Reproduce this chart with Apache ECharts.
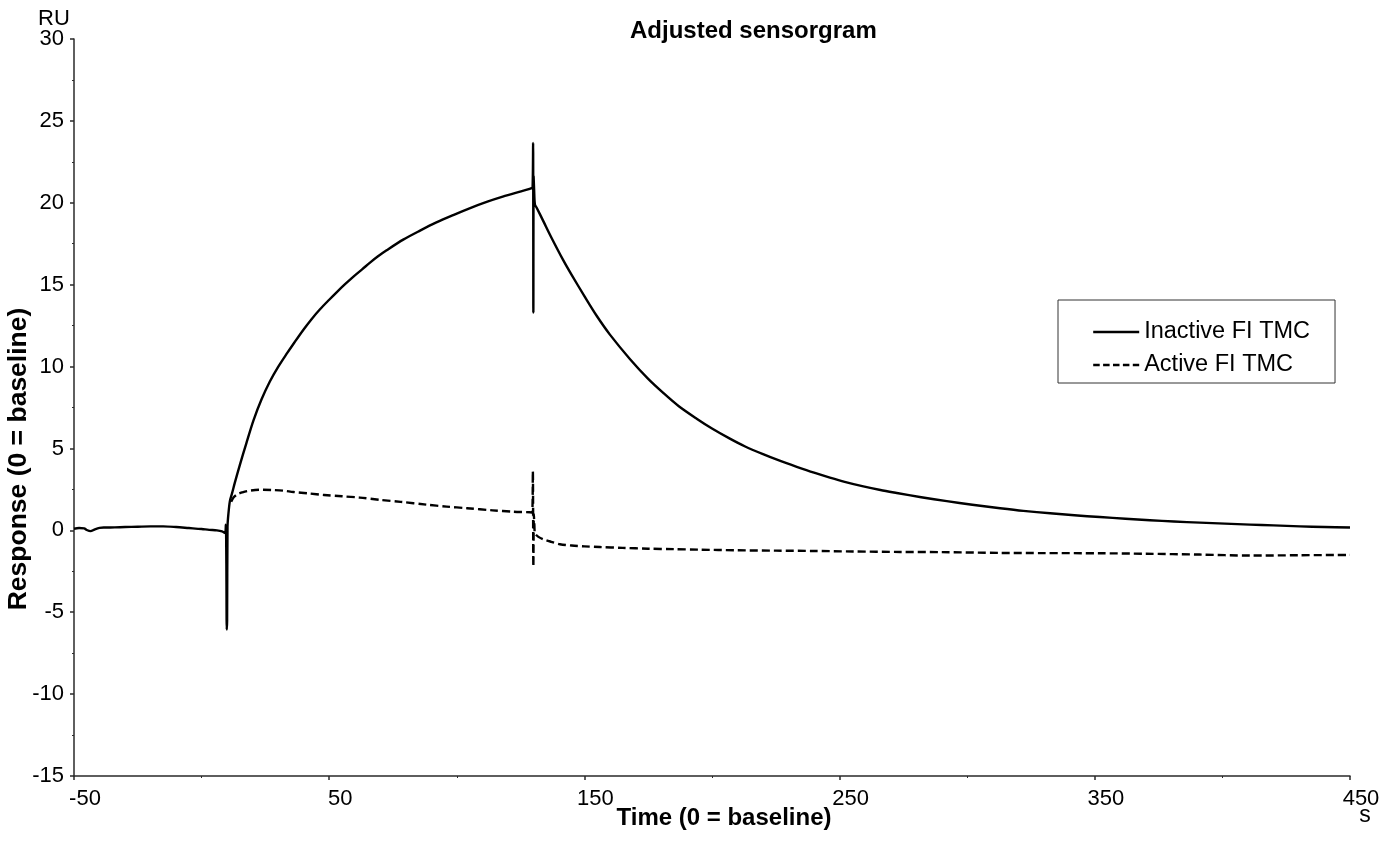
<!DOCTYPE html>
<html>
<head>
<meta charset="utf-8">
<title>Adjusted sensorgram</title>
<script src="https://cdn.jsdelivr.net/npm/echarts@6/dist/echarts.min.js"></script>
<style>
  html, body { margin: 0; padding: 0; background: #fff; }
  #chart { width: 1390px; height: 846px; }
</style>
</head>
<body>
<div id="chart"></div>
<script>
// Inactive FI TMC: time (s) and response (RU)
const inactiveTime = [
  -50, -48, -46, -45, -43.5, -42, -40, -38, -34, -30, -25, -20, -15, -10, -5, 0, 3, 6, 8, 9.2,
  9.5, 9.7, 9.85, 10.0, 10.15, 10.5, 11.1, 12, 13, 15, 17.5, 20.3, 23.5, 26.8, 30, 33.3, 36.5,
  39.9, 43, 46.4, 50, 53, 56, 59.4, 63, 66, 69, 72.5, 79, 85.6, 92, 98.6, 105, 111.7, 118,
  124.8, 127.5, 129.3, 129.7, 129.9, 130.0, 130.1, 130.3, 130.6, 131.3, 134, 137, 141.7, 145,
  150, 154.8, 160, 167.9, 175, 181, 187, 194, 200, 207, 213, 220, 226, 233.2, 240, 246.2, 252,
  259.3, 266, 272.4, 282, 292, 302, 312.9, 322, 332.5, 342, 352, 362, 371.6, 381, 391.2, 401,
  410.8, 420, 430.4, 440, 450
];
const inactiveRU = [
  0.10, 0.14, 0.12, 0.02, -0.05, 0.05, 0.15, 0.17, 0.18, 0.20, 0.22, 0.24, 0.24, 0.20, 0.14, 0.08, 0.03, 0.00, -0.06, -0.16,
  0.35, -2.0, -6.06, -5.5, 0.2, 1.0, 1.8, 2.3, 2.9, 4.0, 5.3, 6.7, 8.0, 9.1, 9.98, 10.77, 11.5,
  12.25, 12.88, 13.5, 14.08, 14.55, 15.0, 15.48, 15.95, 16.35, 16.72, 17.1, 17.75, 18.3, 18.8, 19.25, 19.66, 20.05, 20.37,
  20.68, 20.8, 20.9, 20.95, 23.65, 13.3, 21.6, 20.8, 19.9, 19.7, 18.85, 17.9, 16.5, 15.6,
  14.3, 13.1, 11.95, 10.45, 9.25, 8.38, 7.58, 6.82, 6.22, 5.6, 5.12, 4.65, 4.28, 3.88, 3.52, 3.22, 2.96,
  2.68, 2.46, 2.28, 2.02, 1.78, 1.56, 1.35, 1.19, 1.04, 0.92, 0.81, 0.71, 0.62, 0.54, 0.47, 0.41,
  0.35, 0.30, 0.24, 0.20, 0.17
];

// Active FI TMC: time (s) and response (RU)
const activeTime = [
  11.6, 12.5, 14, 16, 18, 21, 24, 28, 32, 36, 42, 48, 55, 62, 70, 78, 88, 96, 104, 114, 122,
  128.7, 129.5, 129.8, 130.0, 130.2, 130.4, 130.6, 132, 134, 137, 140.4, 145, 150, 156, 165,
  175, 185, 195, 210, 225, 240, 255, 273.7, 290, 313, 330, 352, 370, 391, 411, 430, 450
];
const activeRU = [
  1.75, 2.0, 2.2, 2.32, 2.4, 2.46, 2.48, 2.46, 2.42, 2.34, 2.25, 2.16, 2.08, 2.0, 1.86, 1.74, 1.57, 1.45, 1.35, 1.22, 1.14,
  1.1, 1.08, 3.6, -2.2, 1.0, 0.3, -0.16, -0.4, -0.55, -0.7, -0.85, -0.93, -0.98, -1.02, -1.07,
  -1.12, -1.15, -1.18, -1.22, -1.24, -1.26, -1.29, -1.32, -1.33, -1.38, -1.39, -1.4, -1.43, -1.48, -1.54, -1.52, -1.5
];

const seriesNames = ['Inactive FI TMC', 'Active FI TMC'];

const zip = (xs, ys) => xs.map((x, i) => [x, ys[i]]);

const FONT = 'Liberation Sans, Arial, Helvetica, sans-serif';
const AXIS_COLOR = '#2a2a2a';

const chart = echarts.init(document.getElementById('chart'), null, { renderer: 'canvas' });

chart.setOption({
  animation: false,
  backgroundColor: '#ffffff',
  textStyle: { fontFamily: FONT, color: '#000' },
  title: {
    text: 'Adjusted sensorgram',
    left: 630,
    top: 19,
    padding: 0,
    textStyle: { fontFamily: FONT, fontSize: 24, fontWeight: 'bold', color: '#000' }
  },
  legend: {
    data: [
      { name: seriesNames[0], lineStyle: { width: 2.4, type: 'solid' } },
      { name: seriesNames[1], lineStyle: { width: 2.4, type: [6.5, 3.4] } }
    ],
    orient: 'vertical',
    left: 1058,
    top: 300,
    padding: [20, 25, 6, 34],
    itemGap: 9,
    itemWidth: 46,
    itemHeight: 14,
    selectedMode: false,
    borderColor: '#333',
    borderWidth: 1,
    backgroundColor: '#fff',
    itemStyle: { opacity: 0 },
    lineStyle: { width: 2.4 },
    textStyle: { fontFamily: FONT, fontSize: 23.5, color: '#000' }
  },
  grid: { left: 74, right: 40, top: 39, bottom: 70, containLabel: false },
  xAxis: {
    type: 'value',
    min: -50,
    max: 450,
    interval: 100,
    axisLine: { show: true, onZero: false, lineStyle: { color: AXIS_COLOR, width: 1.5 } },
    axisTick: { show: true, length: 4, lineStyle: { color: AXIS_COLOR, width: 1.5 } },
    minorTick: { show: true, splitNumber: 2, length: 2, lineStyle: { color: AXIS_COLOR, width: 1 } },
    splitLine: { show: false },
    axisLabel: {
      fontFamily: FONT, fontSize: 22, color: '#000', margin: 12,
      padding: [0, 0, 0, 22],
      showMinLabel: true, showMaxLabel: true
    }
  },
  yAxis: {
    type: 'value',
    min: -15,
    max: 30,
    interval: 5,
    axisLine: { show: true, onZero: false, lineStyle: { color: AXIS_COLOR, width: 1.5 } },
    axisTick: { show: true, length: 4, lineStyle: { color: AXIS_COLOR, width: 1.5 } },
    minorTick: { show: true, splitNumber: 2, length: 2, lineStyle: { color: AXIS_COLOR, width: 1 } },
    splitLine: { show: false },
    axisLabel: {
      fontFamily: FONT, fontSize: 22, color: '#000', margin: 10,
      showMinLabel: true, showMaxLabel: true
    }
  },
  graphic: [
    {
      type: 'text', left: 38, top: 8,
      style: { text: 'RU', font: '22px ' + FONT, fill: '#000' }
    },
    {
      type: 'text', x: 1365, y: 816,
      style: { text: 's', font: '23px ' + FONT, fill: '#000', textAlign: 'center', textVerticalAlign: 'middle' }
    },
    {
      type: 'text', x: 724, y: 818,
      style: { text: 'Time (0 = baseline)', font: 'bold 24px ' + FONT, fill: '#000', textAlign: 'center', textVerticalAlign: 'middle' }
    },
    {
      type: 'text', x: 19, y: 459, rotation: Math.PI / 2,
      style: { text: 'Response (0 = baseline)', font: 'bold 26.5px ' + FONT, fill: '#000', textAlign: 'center', textVerticalAlign: 'middle' }
    }
  ],
  series: [
    {
      name: seriesNames[0],
      type: 'line',
      data: zip(inactiveTime, inactiveRU),
      showSymbol: false,
      symbol: 'none',
      smooth: 0.3,
      z: 3,
      lineStyle: { color: '#000', width: 2.4, type: 'solid', join: 'round' },
      itemStyle: { color: '#000' }
    },
    {
      name: seriesNames[1],
      type: 'line',
      data: zip(activeTime, activeRU),
      showSymbol: false,
      symbol: 'none',
      smooth: 0.3,
      z: 2,
      lineStyle: { color: '#000', width: 2.4, type: [8, 4], join: 'round' },
      itemStyle: { color: '#000' }
    }
  ]
});
</script>
</body>
</html>
